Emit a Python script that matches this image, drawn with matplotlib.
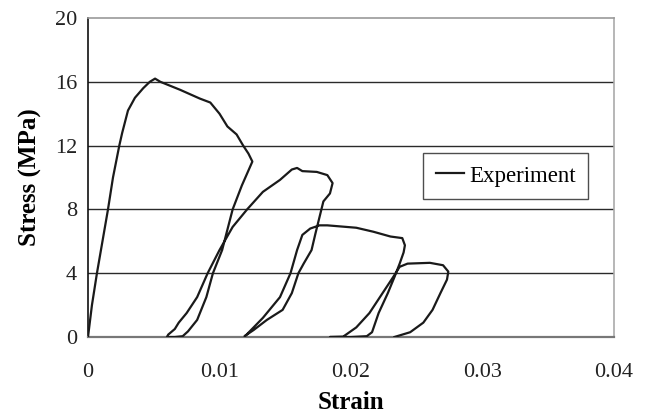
import matplotlib
matplotlib.use("Agg")
import matplotlib.pyplot as plt

strain = [
    0.0, 0.0003, 0.00068, 0.0011, 0.00152, 0.0019, 0.00238, 0.0026, 0.00304, 0.00357, 0.0042, 0.0047, 0.0051,
    0.0055, 0.0070, 0.0085, 0.0093, 0.0100, 0.0106, 0.0113, 0.0118, 0.0122, 0.0125,
    0.0117, 0.0110, 0.0102, 0.0095, 0.0090, 0.0083, 0.0076, 0.0072, 0.0066, 0.0060,
    0.0061, 0.0066, 0.0069, 0.0075, 0.0083, 0.0091, 0.0100, 0.0110, 0.0121, 0.0133, 0.0146, 0.0155, 0.0159,
    0.0163, 0.0174, 0.0182, 0.0186, 0.0184, 0.0179,
    0.0176, 0.0173, 0.0170, 0.0164, 0.0160, 0.0155, 0.0148, 0.0136, 0.0126, 0.0119,
    0.0120, 0.0133, 0.0146, 0.0154, 0.0159, 0.0163, 0.0169, 0.0176, 0.0182, 0.0204, 0.0217, 0.0230, 0.0239,
    0.0241, 0.0240,
    0.0237, 0.0233, 0.0228, 0.0221, 0.0216, 0.0212, 0.0200, 0.0184,
    0.0194, 0.0204, 0.0214, 0.0224, 0.0232, 0.0237, 0.0243, 0.0260, 0.0270, 0.0274, 0.0273,
    0.0268, 0.0262, 0.0255, 0.0245, 0.0235, 0.0233,
]
stress = [
    0.0, 2.0, 4.0, 6.0, 8.0, 10.0, 12.0, 12.8, 14.2, 15.0, 15.6, 16.0, 16.2,
    16.0, 15.5, 14.95, 14.7, 14.0, 13.2, 12.7, 12.0, 11.5, 11.0,
    9.5, 8.0, 5.45, 4.0, 2.5, 1.07, 0.35, 0.05, 0.0, 0.0,
    0.15, 0.5, 0.9, 1.5, 2.5, 4.0, 5.45, 6.9, 8.0, 9.1, 9.85, 10.5, 10.6,
    10.4, 10.35, 10.15, 9.65, 9.0, 8.5,
    7.5, 6.5, 5.45, 4.6, 4.0, 2.75, 1.7, 1.07, 0.44, 0.05,
    0.1, 1.2, 2.5, 4.0, 5.45, 6.4, 6.8, 7.0, 7.0, 6.85, 6.6, 6.3, 6.2,
    5.75, 5.3,
    4.6, 3.75, 2.75, 1.5, 0.3, 0.05, 0.0, 0.0,
    0.02, 0.6, 1.5, 2.75, 3.75, 4.4, 4.6, 4.65, 4.5, 4.1, 3.6,
    2.75, 1.7, 0.9, 0.3, 0.05, 0.0,
]

x_ticks = [0, 0.01, 0.02, 0.03, 0.04]
x_tick_labels = ["0", "0.01", "0.02", "0.03", "0.04"]
y_ticks = [0, 4, 8, 12, 16, 20]
y_tick_labels = ["0", "4", "8", "12", "16", "20"]

plt.rcParams['font.family'] = ['Liberation Serif', 'DejaVu Serif']

fig = plt.figure(figsize=(6.46, 4.19), dpi=100)
ax = fig.add_axes([88/646, 1-337/419, (614-88)/646, (337-18)/419])

for yv in y_ticks[1:-1]:
    ax.axhline(yv, color='#2a2a2a', lw=1.0, zorder=1)

ax.plot(strain, stress, color='#1a1a1a', lw=1.6, label='Experiment', zorder=3,
        solid_joinstyle='round')

ax.set_xlim(0, 0.04)
ax.set_ylim(0, 20)
ax.set_xticks(x_ticks)
ax.set_xticklabels(x_tick_labels)
ax.set_yticks(y_ticks)
ax.set_yticklabels(y_tick_labels)
ax.tick_params(axis='both', length=0, labelsize=16, colors='#222222')
ax.tick_params(axis='x', pad=19)
ax.tick_params(axis='y', pad=8)

ax.spines['left'].set_color('#111111')
ax.spines['left'].set_linewidth(1.2)
ax.spines['bottom'].set_color('#777777')
ax.spines['bottom'].set_linewidth(1.6)
ax.spines['top'].set_color('#999999')
ax.spines['top'].set_linewidth(1.2)
ax.spines['right'].set_color('#aaaaaa')
ax.spines['right'].set_linewidth(1.2)

ax.set_xlabel('Strain', fontsize=18, fontweight='bold', labelpad=6)
ax.set_ylabel('Stress (MPa)', fontsize=18, fontweight='bold', labelpad=9)

leg = ax.legend(loc='center', bbox_to_anchor=((505.5-88)/526, (337-176)/319),
                fontsize=16.5, frameon=True, fancybox=False, shadow=False,
                handlelength=1.25, handletextpad=0.2, borderpad=0.55, borderaxespad=0)
leg.get_frame().set_edgecolor('#222222')
leg.get_frame().set_linewidth(1.0)

fig.savefig('out.png', dpi=100)
